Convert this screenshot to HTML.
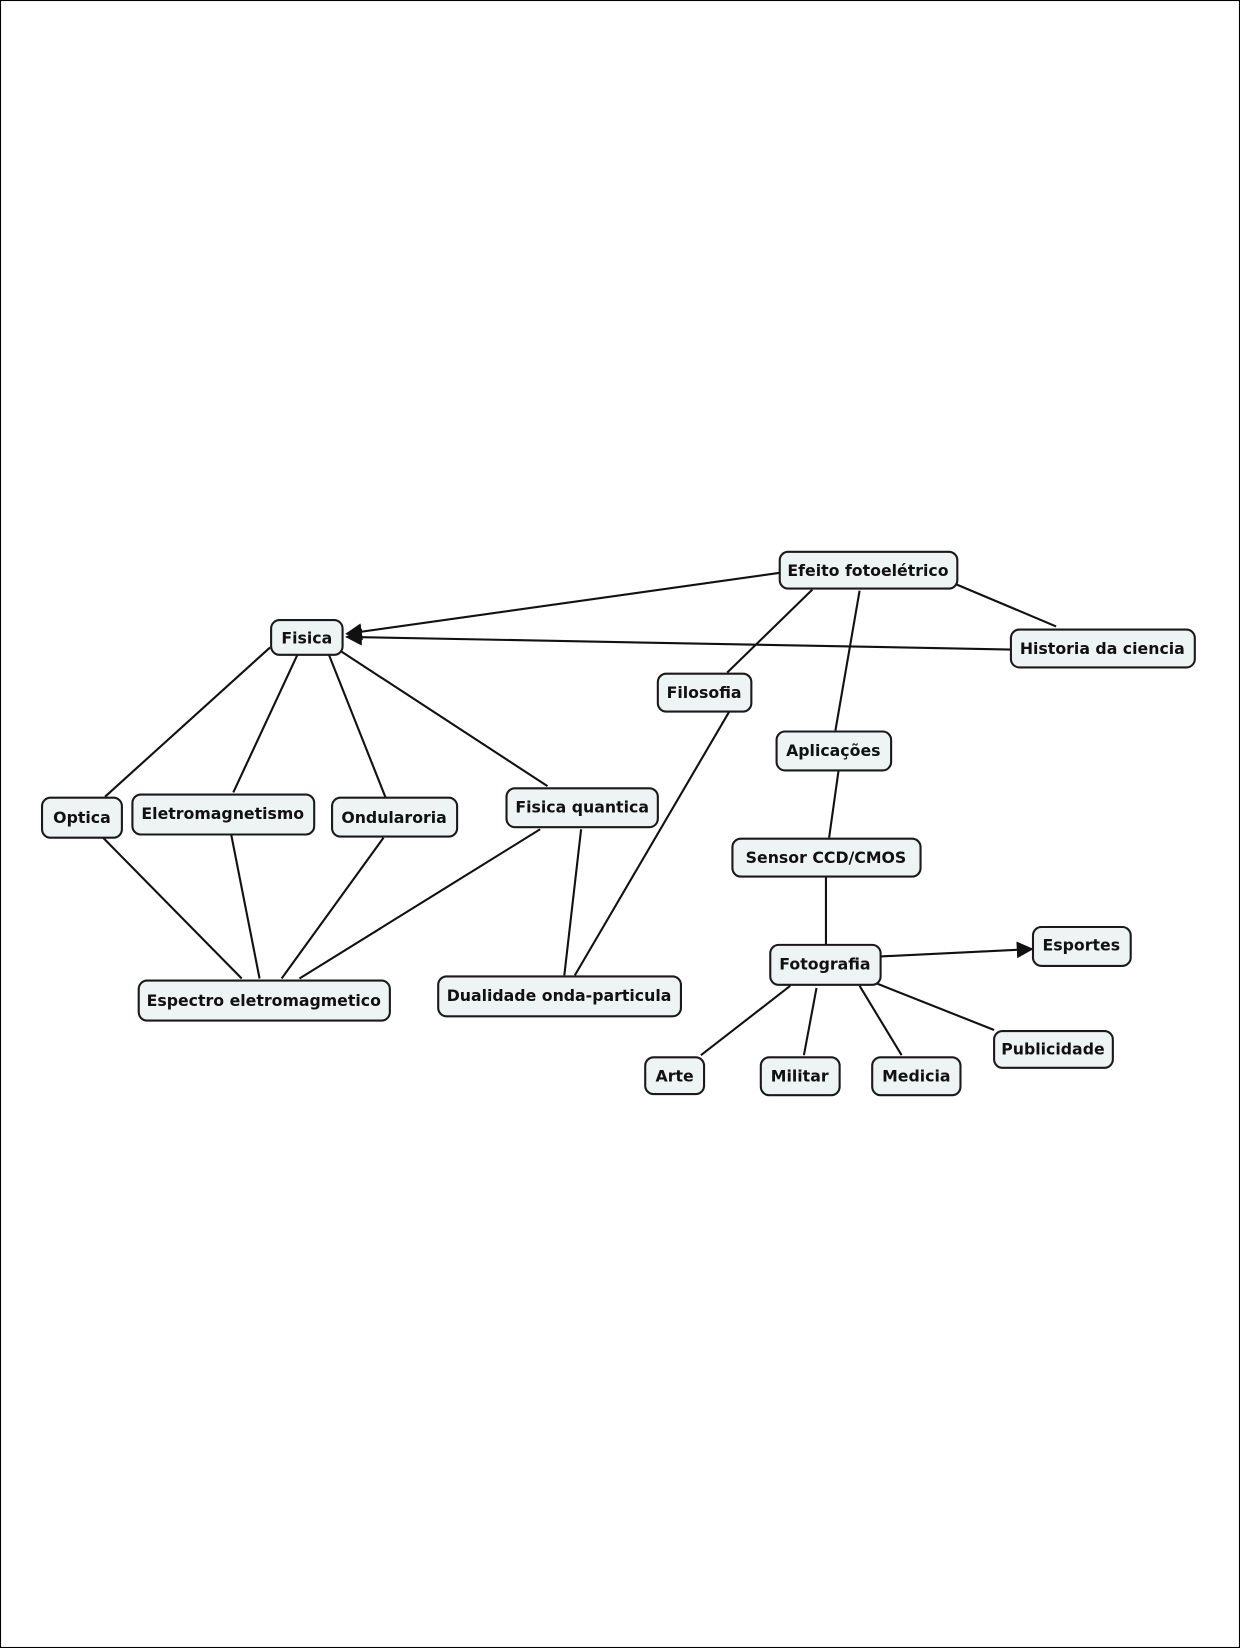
<!DOCTYPE html>
<html><head><meta charset="utf-8"><style>
html,body{margin:0;padding:0;background:#fff;}
svg{display:block;}
text{font-family:"DejaVu Sans","Liberation Sans",sans-serif;font-size:15px;fill:#111;text-anchor:middle;dominant-baseline:central;font-weight:bold;}
.n{fill:#eef3f3;stroke:#1a1a1a;stroke-width:2;}
.l{stroke:#111;stroke-width:2;fill:none;}
</style></head><body>
<svg width="1240" height="1648" viewBox="0 0 1180 1568" preserveAspectRatio="none" xmlns="http://www.w3.org/2000/svg">
<defs><marker id="a" viewBox="0 0 10 10" refX="9" refY="5" markerWidth="9" markerHeight="9" markerUnits="userSpaceOnUse" orient="auto"><path d="M0,0L10,5L0,10z" fill="#111"/></marker>
<marker id="b" viewBox="0 0 10 10" refX="9" refY="5" markerWidth="16" markerHeight="16" markerUnits="userSpaceOnUse" orient="auto"><path d="M0,0L10,5L0,10z" fill="#111"/></marker></defs>
<rect x="0.5" y="0.5" width="1179" height="1567" fill="none" stroke="#000" stroke-width="1"/>
<g class="l">
<line x1="742" y1="545" x2="330" y2="603" marker-end="url(#b)"/>
<line x1="962" y1="618" x2="330" y2="606" marker-end="url(#b)"/>
<line x1="910" y1="556" x2="1005" y2="596"/>
<line x1="773" y1="561" x2="692" y2="640"/>
<line x1="818" y1="562" x2="795" y2="695"/>
<line x1="798" y1="733" x2="789" y2="797"/>
<line x1="786" y1="834" x2="786" y2="899"/>
<line x1="838" y1="910" x2="982" y2="903" marker-end="url(#b)"/>
<line x1="752" y1="938" x2="667" y2="1004"/>
<line x1="777" y1="940" x2="765" y2="1004"/>
<line x1="818" y1="938" x2="858" y2="1004"/>
<line x1="835" y1="936" x2="946" y2="980"/>
<line x1="694" y1="677" x2="547" y2="928"/>
<line x1="257" y1="616" x2="100" y2="758"/>
<line x1="283" y1="623" x2="222" y2="754"/>
<line x1="313" y1="623" x2="367" y2="759"/>
<line x1="325" y1="620" x2="521" y2="748"/>
<line x1="98" y1="797" x2="230" y2="931"/>
<line x1="220" y1="794" x2="247" y2="931"/>
<line x1="365" y1="797" x2="268" y2="931"/>
<line x1="514" y1="789" x2="285" y2="931"/>
<line x1="553" y1="789" x2="537" y2="928"/>
</g>
<g>
<rect class="n" x="742" y="525" width="169" height="35" rx="8"/><text x="826" y="543">Efeito fotoelétrico</text>
<rect class="n" x="258" y="590" width="68" height="33" rx="8"/><text x="292" y="607">Fisica</text>
<rect class="n" x="962" y="599" width="175" height="36" rx="8"/><text x="1049" y="617">Historia da ciencia</text>
<rect class="n" x="626" y="641" width="89" height="36" rx="8"/><text x="670" y="659">Filosofia</text>
<rect class="n" x="739" y="696" width="109" height="37" rx="8"/><text x="793" y="714">Aplicações</text>
<rect class="n" x="40" y="759" width="76" height="38" rx="8"/><text x="78" y="778">Optica</text>
<rect class="n" x="126" y="756" width="173" height="38" rx="8"/><text x="212" y="774">Eletromagnetismo</text>
<rect class="n" x="316" y="759" width="119" height="37" rx="8"/><text x="375" y="778">Ondularoria</text>
<rect class="n" x="482" y="750" width="144" height="37" rx="8"/><text x="554" y="768">Fisica quantica</text>
<rect class="n" x="697" y="798" width="179" height="36" rx="8"/><text x="786" y="816">Sensor CCD/CMOS</text>
<rect class="n" x="983" y="882" width="93" height="37" rx="8"/><text x="1029" y="899">Esportes</text>
<rect class="n" x="733" y="899" width="105" height="38" rx="8"/><text x="785" y="917">Fotografia</text>
<rect class="n" x="132" y="933" width="239" height="38" rx="8"/><text x="251" y="952">Espectro eletromagmetico</text>
<rect class="n" x="417" y="929" width="231" height="38" rx="8"/><text x="532" y="947">Dualidade onda-particula</text>
<rect class="n" x="946" y="981" width="113" height="35" rx="8"/><text x="1002" y="998">Publicidade</text>
<rect class="n" x="614" y="1006" width="56" height="35" rx="8"/><text x="642" y="1024">Arte</text>
<rect class="n" x="724" y="1006" width="75" height="36" rx="8"/><text x="761" y="1024">Militar</text>
<rect class="n" x="830" y="1006" width="84" height="36" rx="8"/><text x="872" y="1024">Medicia</text>
</g>
</svg>
</body></html>
